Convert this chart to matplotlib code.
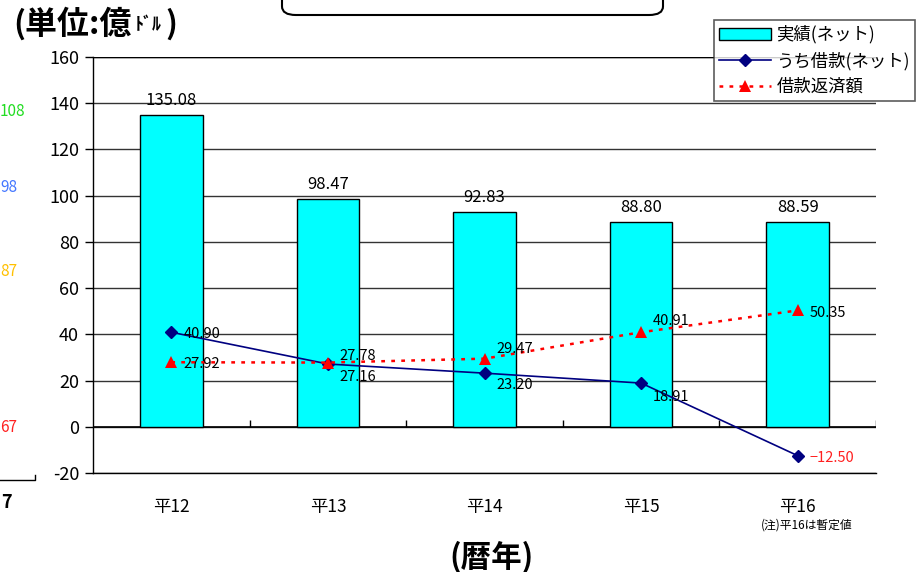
import numpy as np
import matplotlib.pyplot as plt
from matplotlib.patches import FancyBboxPatch

plt.rcParams['font.family'] = ['Noto Sans CJK JP', 'DejaVu Sans']

# ---- data ----
years = ["平12", "平13", "平14", "平15", "平16"]
jisseki = [135.08, 98.47, 92.83, 88.80, 88.59]        # 実績(ネット)
shakkan = [40.90, 27.16, 23.20, 18.91, -12.50]        # うち借款(ネット)
hensai = [27.92, 27.78, 29.47, 40.91, 50.35]          # 借款返済額
yticks = [-20, 0, 20, 40, 60, 80, 100, 120, 140, 160]

# label offsets in pixels (dx, dy) for the line labels
shakkan_off = [(12, -2), (12, -13), (12, -12), (12, -14), (12, -2)]
hensai_off = [(12, -2), (12, 7), (12, 10), (12, 11), (12, -3)]

fig = plt.figure(figsize=(9.24, 5.72), dpi=100)
ax = fig.add_axes([93 / 924, 1 - 473 / 572, (876 - 93) / 924, (473 - 57) / 572])

x = np.arange(len(years))

bars = ax.bar(x, jisseki, width=0.4, color="#00ffff", edgecolor="black",
              linewidth=1.0, zorder=3, label="実績(ネット)")
l1, = ax.plot(x, shakkan, color="#000080", linewidth=1.2, marker="D", markersize=6,
              zorder=4, label="うち借款(ネット)")
l2, = ax.plot(x, hensai, color="#ff0000", linewidth=1.8, linestyle=(0, (1.5, 2.5)),
              marker="^", markersize=8, markeredgewidth=0, zorder=4, label="借款返済額")

# bar value labels
for xi, v in zip(x, jisseki):
    ax.annotate(f"{v:.2f}", (xi, v), xytext=(0, 6), textcoords="offset pixels",
                ha="center", va="bottom", fontsize=12, zorder=5)

for xi, v, (dx, dy) in zip(x, shakkan, shakkan_off):
    txt = f"{v:.2f}" if v >= 0 else f"\u2212{abs(v):.2f}"
    col = "black" if v >= 0 else "#ff2020"
    ax.annotate(txt, (xi, v), xytext=(dx, dy), textcoords="offset pixels",
                ha="left", va="center", fontsize=10.5, color=col, zorder=5)

for xi, v, (dx, dy) in zip(x, hensai, hensai_off):
    ax.annotate(f"{v:.2f}", (xi, v), xytext=(dx, dy), textcoords="offset pixels",
                ha="left", va="center", fontsize=10.5, zorder=5)

# axes
ax.set_xlim(-0.5, len(years) - 0.5)
ax.set_ylim(-20, 160)
ax.set_yticks(yticks)
ax.set_yticklabels([str(t) for t in yticks], fontsize=13)
ax.yaxis.grid(True, color="#333333", linewidth=1.0, zorder=0)
ax.set_axisbelow(True)
ax.tick_params(axis="y", direction="out", length=6, width=1, pad=4)

ax.set_xticks(x)
ax.set_xticklabels(years, fontsize=12.5)
ax.tick_params(axis="x", length=0, pad=18)

for s in ["top", "right"]:
    ax.spines[s].set_visible(False)
ax.spines["left"].set_linewidth(1.0)
ax.spines["bottom"].set_linewidth(1.0)

# zero line with small ticks at category boundaries
ax.axhline(0, color="black", linewidth=1.2, zorder=2)
ax.vlines(x + 0.5, 0, 3, color="black", linewidth=1.0, zorder=2)
ax.axhline(160, color="black", linewidth=1.0, zorder=2)

leg = ax.legend(handles=[bars, l1, l2], loc="upper right",
                bbox_to_anchor=(915 / 924, 1 - 20 / 572),
                bbox_transform=fig.transFigure, fontsize=12.5, frameon=True,
                fancybox=False, borderpad=0.3, labelspacing=0.45,
                handlelength=3.0, handletextpad=0.3, borderaxespad=0)
leg.get_frame().set_edgecolor("#333333")
leg.get_frame().set_linewidth(1.2)
leg.set_zorder(10)

# unit label, pieced together so the small "ﾄﾞﾙ" sits raised
fig.canvas.draw()
renderer = fig.canvas.get_renderer()
t1 = fig.text(13 / 924, 1 - 24 / 572, "(単位:億", fontsize=23, fontweight="bold",
              ha="left", va="center")
e1 = t1.get_window_extent(renderer)
t2 = fig.text((e1.x1 + 3) / 924, 1 - 25 / 572, "ﾄﾞﾙ", fontsize=13, fontweight="bold",
              ha="left", va="center")
e2 = t2.get_window_extent(renderer)
fig.text((e2.x1 + 4) / 924, 1 - 24 / 572, ")", fontsize=23, fontweight="bold",
         ha="left", va="center")

fig.text(807 / 924, 1 - 525 / 572, "(注)平16は暫定値", fontsize=8.5,
         ha="center", va="center")
fig.text(492 / 924, 1 - 557 / 572, "(暦年)", fontsize=22, fontweight="bold",
         ha="center", va="center")

# title box cut off at the top
box = FancyBboxPatch((282 / 924, 1 - 15 / 572), (663 - 282) / 924, 40 / 572,
                     boxstyle="round,pad=0,rounding_size=0.015",
                     transform=fig.transFigure, facecolor="white",
                     edgecolor="black", linewidth=1.5, clip_on=False)
fig.patches.append(box)

# remnants of the neighbouring chart on the left
fig.text(0, 1 - 112 / 572, "108", fontsize=11, color="#22dd22", ha="left", va="center")
fig.text(0, 1 - 188 / 572, "98", fontsize=11, color="#4477ff", ha="left", va="center")
fig.text(0, 1 - 272 / 572, "87", fontsize=11, color="#ffc000", ha="left", va="center")
fig.text(0, 1 - 427 / 572, "67", fontsize=11, color="#ff2020", ha="left", va="center")
fig.add_artist(plt.Line2D([0, 35 / 924, 35 / 924], [1 - 480 / 572, 1 - 480 / 572, 1 - 475 / 572],
                          transform=fig.transFigure, color="black", linewidth=1.0))
fig.text(1 / 924, 1 - 503 / 572, "7", fontsize=13, fontweight="bold", ha="left", va="center")

fig.savefig("out.png", dpi=100)
